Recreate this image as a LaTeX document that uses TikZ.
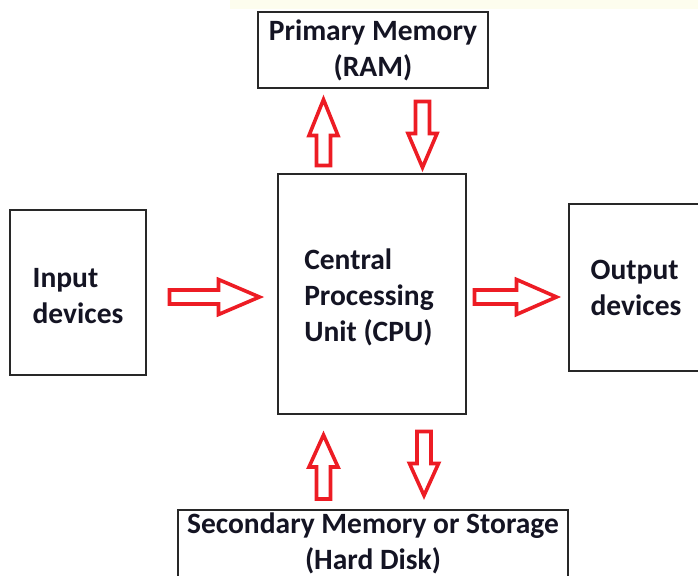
\documentclass[tikz,border=0pt]{standalone}
\usepackage{fontspec}
\setmainfont{Carlito}
\usetikzlibrary{calc,positioning}

\definecolor{arrred}{RGB}{237,28,36}
\definecolor{boxgray}{RGB}{40,40,40}
\definecolor{topband}{RGB}{253,253,238}
\definecolor{txt}{RGB}{20,20,35}

\tikzset{
  arrow len/.store in=\arrlen,
  arrow shaft/.store in=\arrshaft,
  arrow head/.store in=\arrhead,
  arrow len=66, arrow shaft=32, arrow head=14.5,
  blockarrow/.pic={
    \draw[draw=arrred, line width=3.6pt, fill=white]
      (0,-7) -- (\arrshaft,-7) -- (\arrshaft,-\arrhead) -- (\arrlen,0)
      -- (\arrshaft,\arrhead) -- (\arrshaft,7) -- (0,7) -- cycle;
  }
}

\begin{document}
\begin{tikzpicture}[x=1pt, y=-1pt,
    box/.style={draw=boxgray, line width=2pt, inner sep=0pt, text=txt,
      font=\bfseries\fontsize{29.5}{36}\selectfont}]
  \useasboundingbox (0,0) rectangle (698,575);
  \clip (0,0) rectangle (698,575);
  \fill[topband] (230,0) rectangle (698,9);

  \node[box, align=center, minimum width=230pt, minimum height=76pt] (ram) at (373,50) {Primary Memory\\(RAM)};
  \node[box, minimum width=136pt, minimum height=165pt] (inp) at (78,292.5) {};
  \node[text=txt, font=\bfseries\fontsize{29.5}{36}\selectfont, align=left, inner sep=0pt] (inptext) at (78,296) {Input\\devices};
  \node[box, minimum width=188pt, minimum height=240pt] (cpu) at (372,294) {};
  \node[text=txt, font=\bfseries\fontsize{29.5}{36}\selectfont, align=left, inner sep=0pt] (cputext) at (369,297) {Central\\Processing\\Unit (CPU)};
  \node[box, align=left, minimum width=134pt, minimum height=167pt] (out) at (636,287.5) {Output\\devices};
  \node[box, minimum width=390pt, minimum height=84pt] (hdd) at (373,552) {};
  \node[text=txt, font=\bfseries\fontsize{29.5}{36}\selectfont, align=center, inner sep=0pt] (hddtext) at (373,543) {Secondary Memory or Storage\\(Hard Disk)};

  % block arrows
  \pic[arrow len=90, arrow shaft=49, arrow head=17.5] at (169.5,297) {blockarrow};
  \pic[arrow len=82, arrow shaft=42, arrow head=17.5] at (474.5,297) {blockarrow};
  \pic[rotate=90, arrow shaft=30] at (323.5,165.5) {blockarrow};
  \pic[rotate=-90, arrow shaft=32] at (422.5,101.5) {blockarrow};
  \pic[rotate=90, arrow len=64, arrow shaft=32] at (323.5,499) {blockarrow};
  \pic[rotate=-90, arrow len=64, arrow shaft=32] at (424,431.5) {blockarrow};
\end{tikzpicture}
\end{document}
